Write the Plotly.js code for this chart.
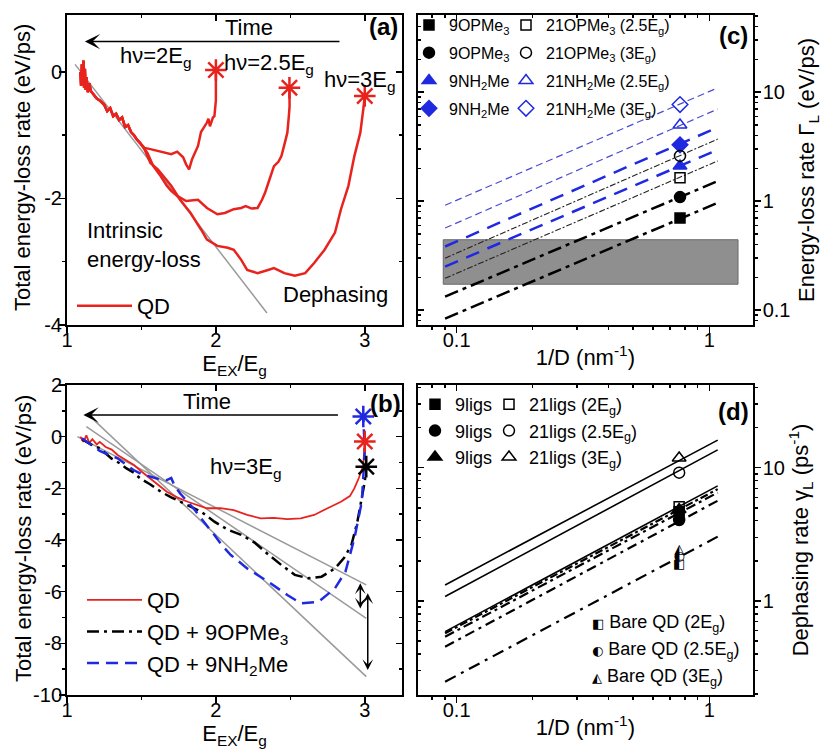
<!DOCTYPE html>
<html><head><meta charset="utf-8">
<script src="https://cdn.plot.ly/plotly-3.0.1.min.js"></script>
<style>html,body{margin:0;padding:0;background:#fff}</style>
</head><body><div id="chart" style="width:826px;height:755px"></div>
<script>
// ---------------- Panel (a): total energy-loss rate, bare QD ----------------
const aStartX = [1.09,1.095,1.10,1.105,1.11,1.115,1.12,1.125,1.13,1.14,1.15,1.16,1.18,1.20,1.22,1.25,1.27,1.29,1.31,1.33,1.35,1.37,1.39,1.41,1.43,1.45,1.47,1.49];
const aStartY = [0.00,-0.22,0.12,-0.18,0.18,-0.25,0.05,-0.28,-0.08,-0.32,-0.18,-0.30,-0.36,-0.42,-0.45,-0.52,-0.62,-0.57,-0.70,-0.66,-0.76,-0.72,-0.87,-0.84,-0.95,-1.00,-1.07,-1.12];
const a2EgX = [1.52,1.56,1.61,1.65,1.70,1.74,1.78,1.80,1.82,1.84,1.86,1.88,1.90,1.92,1.94,1.95,1.96,1.98,1.99,2.0,2.0];
const a2EgY = [-1.20,-1.22,-1.25,-1.28,-1.30,-1.26,-1.35,-1.46,-1.54,-1.38,-1.28,-1.17,-0.95,-0.88,-0.80,-0.74,-0.86,-0.72,-0.70,-0.45,0.03];
const a25EgX = [1.54,1.58,1.63,1.67,1.70,1.74,1.80,1.88,1.94,2.01,2.06,2.12,2.17,2.20,2.24,2.28,2.31,2.33,2.36,2.39,2.42,2.44,2.46,2.48,2.49,2.495,2.494];
const a25EgY = [-1.28,-1.49,-1.65,-1.80,-1.88,-1.96,-2.04,-2.02,-2.15,-2.25,-2.23,-2.17,-2.15,-2.12,-2.16,-2.15,-2.02,-1.91,-1.70,-1.49,-1.42,-1.33,-1.15,-0.96,-0.70,-0.54,-0.25];
const a3EgX = [1.52,1.56,1.61,1.65,1.70,1.76,1.83,1.90,1.94,2.01,2.08,2.12,2.17,2.21,2.28,2.35,2.39,2.46,2.53,2.60,2.66,2.73,2.80,2.84,2.89,2.93,2.97,2.99,3.0];
const a3EgY = [-1.22,-1.44,-1.54,-1.65,-1.80,-2.02,-2.23,-2.49,-2.65,-2.75,-2.78,-2.81,-2.97,-3.13,-3.18,-3.13,-3.10,-3.18,-3.22,-3.18,-3.02,-2.81,-2.54,-2.17,-1.80,-1.33,-0.96,-0.59,-0.38];
const aStarX = [2.0, 2.494, 3.0];
const aStarY = [0.03, -0.25, -0.38];
const aFitX = [1.054, 2.343];
const aFitY = [0.12, -3.81];

// ---------------- Panel (b): QD vs ligand-passivated QD at 3Eg ----------------
const bQDX = [1.09,1.11,1.13,1.15,1.17,1.20,1.22,1.26,1.30,1.34,1.40,1.45,1.50,1.56,1.62,1.67,1.74,1.81,1.88,1.94,2.03,2.12,2.21,2.30,2.39,2.48,2.57,2.66,2.75,2.84,2.90,2.93,2.96,2.99,3.0];
const bQDY = [0,-0.2,0.05,-0.25,-0.1,-0.3,-0.2,-0.4,-0.5,-0.71,-0.92,-1.10,-1.35,-1.61,-1.9,-2.13,-2.35,-2.52,-2.66,-2.77,-2.77,-2.84,-3.03,-3.16,-3.14,-3.19,-3.16,-3.03,-2.77,-2.52,-2.3,-2.0,-1.6,-1.1,-0.19];
const bOPX = [1.10,1.16,1.22,1.30,1.36,1.40,1.45,1.49,1.56,1.63,1.70,1.76,1.83,1.90,1.99,2.08,2.17,2.26,2.35,2.44,2.53,2.62,2.71,2.80,2.86,2.91,2.95,2.98,3.0,3.01];
const bOPY = [-0.1,-0.3,-0.45,-0.85,-1.05,-1.23,-1.4,-1.61,-1.85,-2.13,-2.35,-2.52,-2.7,-2.90,-3.29,-3.6,-3.8,-4.1,-4.55,-4.97,-5.35,-5.48,-5.42,-5.10,-4.7,-4.2,-3.3,-2.4,-1.74,-1.16];
const bNHX = [1.10,1.16,1.22,1.30,1.34,1.40,1.45,1.50,1.56,1.62,1.67,1.70,1.72,1.76,1.81,1.86,1.90,1.95,1.99,2.04,2.10,2.21,2.35,2.48,2.57,2.69,2.80,2.87,2.93,2.98,3.0,2.99];
const bNHY = [-0.06,-0.3,-0.55,-0.75,-0.84,-1.1,-1.3,-1.45,-1.55,-1.65,-1.68,-1.6,-1.87,-2.2,-2.52,-2.85,-3.16,-3.5,-3.81,-4.2,-4.58,-5.10,-5.61,-6.13,-6.45,-6.39,-5.87,-5.23,-3.94,-2.52,-0.58,0.78];
const bStarX = [3.0, 2.99, 3.01];
const bStarY = [-0.19, 0.78, -1.16];
const bFit1X = [1.18, 3.01], bFit1Y = [0.65, -9.29];
const bFit2X = [1.13, 3.01], bFit2Y = [0.39, -7.03];
const bFit3X = [1.07, 3.01], bFit3Y = [0.0, -5.74];

// ---------------- Panel (c): energy-loss rate vs 1/D ----------------
const cLineX = [0.09, 1.08];
const cL_9OP_a = [0.0838, 0.966];
const cL_9OP_b = [0.133, 1.53];
const cL_21OP_a = [0.196, 2.34];
const cL_21OP_b = [0.30, 3.71];
const cL_9NH_a = [0.251, 2.96];
const cL_9NH_b = [0.384, 4.75];
const cL_21NH_a = [0.567, 7.0];
const cL_21NH_b = [0.918, 10.96];
const cBandX = [0.0885, 1.30];
const cBandY = [0.173, 0.443];
const cPtX = [0.766];
const c9OPMe3_sq = [0.70], c9OPMe3_ci = [1.09], c9NH2Me_tr = [2.1], c9NH2Me_di = [3.29];
const c21OPMe3_25 = [1.64], c21OPMe3_3 = [2.6], c21NH2Me_25 = [4.99], c21NH2Me_3 = [7.7];

// ---------------- Panel (d): dephasing rate vs 1/D ----------------
const dLineX = [0.09, 1.08];
const dS1 = [1.32, 16.1], dS2 = [1.08, 13.6], dS3 = [0.589, 7.3];
const dD1 = [0.573, 6.9], dD2 = [0.54, 6.5], dD3 = [0.454, 5.65], dD4 = [0.248, 3.04];
const dPtX = [0.76];
const d9ligs_2 = [4.68], d9ligs_25 = [4.05], d9ligs_3 = [4.85];
const d21ligs_2 = [5.1], d21ligs_25 = [9.17], d21ligs_3 = [11.8];
const dBare_2 = [1.86], dBare_25 = [2.15], dBare_3 = [2.41];

// ---------------- styling ----------------
const FONT = 'Liberation Sans, Arial, sans-serif';
const RED = '#e8231e', BLUE = '#1f2ae0', LBLUE = '#4b4bd6', GRAY = '#9a9a9a';
const cat = (a, b) => a.concat(b);

const traces = [];
function ln(x, y, xa, ya, color, width, dash, extra) {
  return Object.assign({x, y, xaxis: xa, yaxis: ya, mode: 'lines', line: {color, width, dash}, showlegend: false, hoverinfo: 'skip'}, extra || {});
}
function mk(x, y, xa, ya, symbol, color, size, extra) {
  return Object.assign({x, y, xaxis: xa, yaxis: ya, mode: 'markers', cliponaxis: false,
    marker: {symbol, size, color, line: {color, width: 1.5}}, showlegend: false}, extra || {});
}

// (a)
traces.push(ln(aFitX, aFitY, 'x', 'y', GRAY, 1.5, 'solid'));
traces.push(ln(cat(aStartX, a2EgX), cat(aStartY, a2EgY), 'x', 'y', RED, 2.5, 'solid'));
traces.push(ln(cat(aStartX, a25EgX), cat(aStartY, a25EgY), 'x', 'y', RED, 2.5, 'solid'));
traces.push(ln(cat(aStartX, a3EgX), cat(aStartY, a3EgY), 'x', 'y', RED, 2.5, 'solid', {showlegend: true, name: 'QD', legend: 'legend'}));
traces.push({x: aStarX, y: aStarY, xaxis: 'x', yaxis: 'y', mode: 'markers', showlegend: false, cliponaxis: false,
  marker: {symbol: 'asterisk-open', size: 18, color: RED, line: {color: RED, width: 2.5}}});

// (b)
traces.push(ln(bFit1X, bFit1Y, 'x2', 'y2', GRAY, 1.5, 'solid'));
traces.push(ln(bFit2X, bFit2Y, 'x2', 'y2', GRAY, 1.5, 'solid'));
traces.push(ln(bFit3X, bFit3Y, 'x2', 'y2', GRAY, 1.5, 'solid'));
traces.push(ln(bQDX, bQDY, 'x2', 'y2', RED, 1.8, 'solid', {showlegend: true, name: 'QD', legend: 'legend2'}));
traces.push(ln(bOPX, bOPY, 'x2', 'y2', '#000', 2.5, '12px,5px,3px,5px', {showlegend: true, name: 'QD + 9OPMe<sub>3</sub>', legend: 'legend2'}));
traces.push(ln(bNHX, bNHY, 'x2', 'y2', BLUE, 2.5, '12px,7px', {showlegend: true, name: 'QD + 9NH<sub>2</sub>Me', legend: 'legend2'}));
traces.push({x: bStarX, y: bStarY, xaxis: 'x2', yaxis: 'y2', mode: 'markers', showlegend: false, cliponaxis: false,
  marker: {symbol: 'asterisk-open', size: 18, color: [RED, BLUE, '#000'], line: {color: [RED, BLUE, '#000'], width: 2.5}}});

// (c)
traces.push({x: [cBandX[0], cBandX[1], cBandX[1], cBandX[0], cBandX[0]], y: [cBandY[0], cBandY[0], cBandY[1], cBandY[1], cBandY[0]],
  xaxis: 'x3', yaxis: 'y3', mode: 'lines', fill: 'toself', fillcolor: 'rgba(128,128,128,0.88)', line: {color: '#6a6a6a', width: 1}, showlegend: false, hoverinfo: 'skip'});
traces.push(ln(cLineX, cL_9OP_a, 'x3', 'y3', '#000', 2.5, '14px,5px,4px,5px'));
traces.push(ln(cLineX, cL_9OP_b, 'x3', 'y3', '#000', 2.5, '14px,5px,4px,5px'));
traces.push(ln(cLineX, cL_21OP_a, 'x3', 'y3', '#222', 1.1, '6px,2px,2px,2px'));
traces.push(ln(cLineX, cL_21OP_b, 'x3', 'y3', '#222', 1.1, '6px,2px,2px,2px'));
traces.push(ln(cLineX, cL_9NH_a, 'x3', 'y3', BLUE, 2.5, '14px,9px'));
traces.push(ln(cLineX, cL_9NH_b, 'x3', 'y3', BLUE, 2.5, '14px,9px'));
traces.push(ln(cLineX, cL_21NH_a, 'x3', 'y3', LBLUE, 1.2, '7px,4px'));
traces.push(ln(cLineX, cL_21NH_b, 'x3', 'y3', LBLUE, 1.2, '7px,4px'));
const c3 = ['x3', 'y3'];
traces.push(mk(cPtX, c9OPMe3_sq, ...c3, 'square', '#000', 10, {showlegend: true, legend: 'legend3', legendgroup: 'c1', name: '9OPMe<sub>3</sub>'}));
traces.push(mk(cPtX, c9OPMe3_ci, ...c3, 'circle', '#000', 11, {showlegend: true, legend: 'legend3', legendgroup: 'c2', name: '9OPMe<sub>3</sub>'}));
traces.push(mk(cPtX, c9NH2Me_tr, ...c3, 'triangle-up', BLUE, 12, {showlegend: true, legend: 'legend3', legendgroup: 'c3', name: '9NH<sub>2</sub>Me'}));
traces.push(mk(cPtX, c9NH2Me_di, ...c3, 'diamond', BLUE, 12, {showlegend: true, legend: 'legend3', legendgroup: 'c4', name: '9NH<sub>2</sub>Me'}));
traces.push(mk(cPtX, c21OPMe3_25, ...c3, 'square-open', '#000', 10, {showlegend: true, legend: 'legend4', legendgroup: 'c5', name: '21OPMe<sub>3</sub> (2.5E<sub>g</sub>)'}));
traces.push(mk(cPtX, c21OPMe3_3, ...c3, 'circle-open', '#000', 11, {showlegend: true, legend: 'legend4', legendgroup: 'c6', name: '21OPMe<sub>3</sub> (3E<sub>g</sub>)'}));
traces.push(mk(cPtX, c21NH2Me_25, ...c3, 'triangle-up-open', BLUE, 12, {showlegend: true, legend: 'legend4', legendgroup: 'c7', name: '21NH<sub>2</sub>Me (2.5E<sub>g</sub>)'}));
traces.push(mk(cPtX, c21NH2Me_3, ...c3, 'diamond-open', BLUE, 12, {showlegend: true, legend: 'legend4', legendgroup: 'c8', name: '21NH<sub>2</sub>Me (3E<sub>g</sub>)'}));

// (d)
traces.push(ln(dLineX, dS1, 'x4', 'y4', '#000', 1.6, 'solid'));
traces.push(ln(dLineX, dS2, 'x4', 'y4', '#000', 1.6, 'solid'));
traces.push(ln(dLineX, dS3, 'x4', 'y4', '#000', 1.6, 'solid'));
traces.push(ln(dLineX, dD1, 'x4', 'y4', '#000', 2.2, '8px,3px,3px,3px'));
traces.push(ln(dLineX, dD2, 'x4', 'y4', '#000', 2.2, '10px,4px,3px,4px'));
traces.push(ln(dLineX, dD3, 'x4', 'y4', '#000', 2.2, '10px,5px,3px,5px'));
traces.push(ln(dLineX, dD4, 'x4', 'y4', '#000', 2.2, '12px,6px,3px,6px'));
const d4 = ['x4', 'y4'];
traces.push(mk(dPtX, d9ligs_3, ...d4, 'triangle-up', '#000', 12, {showlegend: true, legend: 'legend5', legendgroup: 'd3', legendrank: 3, name: '9ligs'}));
traces.push(mk(dPtX, d9ligs_2, ...d4, 'square', '#000', 10, {showlegend: true, legend: 'legend5', legendgroup: 'd1', legendrank: 1, name: '9ligs'}));
traces.push(mk(dPtX, d9ligs_25, ...d4, 'circle', '#000', 11, {showlegend: true, legend: 'legend5', legendgroup: 'd2', legendrank: 2, name: '9ligs'}));
traces.push(mk(dPtX, d21ligs_2, ...d4, 'square-open', '#000', 10, {showlegend: true, legend: 'legend6', legendgroup: 'd4', name: '21ligs (2E<sub>g</sub>)'}));
traces.push(mk(dPtX, d21ligs_25, ...d4, 'circle-open', '#000', 11, {showlegend: true, legend: 'legend6', legendgroup: 'd5', name: '21ligs (2.5E<sub>g</sub>)'}));
traces.push(mk(dPtX, d21ligs_3, ...d4, 'triangle-up-open', '#000', 12, {showlegend: true, legend: 'legend6', legendgroup: 'd6', name: '21ligs (3E<sub>g</sub>)'}));
traces.push({x: dPtX.concat(dPtX, dPtX), y: dBare_2.concat(dBare_25, dBare_3), xaxis: 'x4', yaxis: 'y4', mode: 'text',
  text: ['◧', '◐', '◭'], textposition: 'middle center', textfont: {family: 'DejaVu Sans', size: 13, color: '#000'}, showlegend: false, cliponaxis: false});

// empty traces so that the mirrored frame axes (inward ticks) are drawn
[['x5', 'y'], ['x', 'y5'], ['x6', 'y2'], ['x2', 'y6'], ['x7', 'y3'], ['x3', 'y7'], ['x8', 'y4'], ['x4', 'y8']].forEach(p => {
  traces.push({x: [], y: [], xaxis: p[0], yaxis: p[1], mode: 'markers', showlegend: false, hoverinfo: 'skip'});
});

// ---------------- axes ----------------
const DX1 = [67/826, 402/826], DX2 = [418/826, 752.7/826];
const DY1 = [1-325/755, 1-15/755], DY2 = [1-695/755, 1-385/755];
const TF = {family: FONT, size: 20, color: '#000'};
const TTF = {family: FONT, size: 22, color: '#000'};
function base(extra) {
  return Object.assign({showgrid: false, zeroline: false, showline: true, linecolor: '#000', linewidth: 2,
    ticks: 'outside', ticklen: 6, tickwidth: 1.5, tickcolor: '#000', tickfont: TF, automargin: false, fixedrange: true}, extra);
}
function mirror(extra) {
  return Object.assign({showgrid: false, zeroline: false, showline: true, linecolor: '#000', linewidth: 2,
    ticks: 'inside', ticklen: 6, tickwidth: 1.5, tickcolor: '#000', showticklabels: false, automargin: false, fixedrange: true}, extra);
}
const linX = {range: [1, 3.25], tickvals: [1, 2, 3], ticklabelstandoff: -10, minor: {tickvals: [1.5, 2.5], ticks: 'outside', ticklen: 3, tickwidth: 1.5, tickcolor: '#000'}};
const linXm = {range: [1, 3.25], tickvals: [1, 2, 3], minor: {tickvals: [1.5, 2.5], ticks: 'inside', ticklen: 3, tickwidth: 1.5, tickcolor: '#000'}};
const yAv = {range: [-4, 0.9], tickvals: [-4, -2, 0], ticktext: ['-4', '-2', '0'], ticklabelstandoff: -7, minor: {tickvals: [-3, -1], ticks: 'outside', ticklen: 3, tickwidth: 1.5, tickcolor: '#000'}};
const yBv = {range: [-10, 2], tickvals: [-10, -8, -6, -4, -2, 0, 2], ticktext: ['-10', '-8', '-6', '-4', '-2', '0', '2'], ticklabelstandoff: -7, minor: {tickvals: [-9, -7, -5, -3, -1, 1], ticks: 'outside', ticklen: 3, tickwidth: 1.5, tickcolor: '#000'}};
const logMinorX = [0.08, 0.09, 0.2, 0.3, 0.4, 0.5, 0.6, 0.7, 0.8, 0.9];
const logXv = {type: 'log', range: [-1.153, 0.172], tickvals: [0.1, 1], ticktext: ['0.1', '1']};
const logMinorYc = [0.08, 0.09, 0.2, 0.3, 0.4, 0.5, 0.6, 0.7, 0.8, 0.9, 2, 3, 4, 5, 6, 7, 8, 9, 20, 30, 40, 50];
const logMinorYd = [0.2, 0.3, 0.4, 0.5, 0.6, 0.7, 0.8, 0.9, 2, 3, 4, 5, 6, 7, 8, 9, 20, 30, 40];
const mOut = v => ({tickvals: v, ticks: 'outside', ticklen: 3, tickwidth: 1.5, tickcolor: '#000'});
const mIn = v => ({tickvals: v, ticks: 'inside', ticklen: 3, tickwidth: 1.5, tickcolor: '#000'});
const exTitle = {text: 'E<sub>EX</sub>/E<sub>g</sub>', font: TTF, standoff: 0};
const dTitle = {text: '1/D (nm<sup>-1</sup>)', font: TTF, standoff: 0};

function lg(x, y, size, extra) {
  return Object.assign({x: x/826, y: 1-y/755, xanchor: 'left', yanchor: 'top', xref: 'paper', yref: 'paper',
    bgcolor: 'rgba(0,0,0,0)', borderwidth: 0, font: {family: FONT, size, color: '#000'}, traceorder: 'grouped', tracegroupgap: 0}, extra || {});
}

const ann = [];
function txt(text, x, y, xref, yref, size, extra) {
  ann.push(Object.assign({text, x, y, xref, yref, showarrow: false, xanchor: 'center', yanchor: 'middle', font: {family: FONT, size, color: '#000'}}, extra || {}));
}
// left y-axis titles of (a) and (b)
txt('Total energy-loss rate (eV/ps)', 23/826, 1-168/755, 'paper', 'paper', 22, {textangle: -90});
txt('Total energy-loss rate (eV/ps)', 23/826, 1-539/755, 'paper', 'paper', 22, {textangle: -90});
// panel labels
txt('<b>(a)</b>', 383/826, 1-26/755, 'paper', 'paper', 24);
txt('<b>(b)</b>', 385/826, 1-403/755, 'paper', 'paper', 24);
txt('<b>(c)</b>', 733/826, 1-35/755, 'paper', 'paper', 24);
txt('<b>(d)</b>', 733/826, 1-411/755, 'paper', 'paper', 24);
// (a) texts
txt('Time', 2.22, 0.70, 'x', 'y', 22);
ann.push({x: 1.12, y: 0.48, ax: 2.84, ay: 0.48, xref: 'x', yref: 'y', axref: 'x', ayref: 'y', text: '', showarrow: true, arrowhead: 3, arrowsize: 1.6, arrowwidth: 1.6, arrowcolor: '#000'});
txt('hν=2E<sub>g</sub>', 1.60, 0.23, 'x', 'y', 22);
txt('hν=2.5E<sub>g</sub>', 2.36, 0.12, 'x', 'y', 22);
txt('hν=3E<sub>g</sub>', 2.97, -0.14, 'x', 'y', 22);
txt('Intrinsic<br>energy-loss', 1.12, -2.74, 'x', 'y', 22, {xanchor: 'left', align: 'left'});
txt('Dephasing', 2.80, -3.52, 'x', 'y', 22);
// (b) texts
txt('Time', 1.94, 1.35, 'x2', 'y2', 22);
ann.push({x: 1.11, y: 0.84, ax: 2.83, ay: 0.84, xref: 'x2', yref: 'y2', axref: 'x2', ayref: 'y2', text: '', showarrow: true, arrowhead: 3, arrowsize: 1.6, arrowwidth: 1.6, arrowcolor: '#000'});
txt('hν=3E<sub>g</sub>', 2.20, -1.23, 'x2', 'y2', 22);
ann.push({x: 2.97, y: -6.65, ax: 2.97, ay: -5.62, xref: 'x2', yref: 'y2', axref: 'x2', ayref: 'y2', text: '', showarrow: true, arrowhead: 3, startarrowhead: 3, arrowside: 'end+start', arrowsize: 1.2, startarrowsize: 1.2, arrowwidth: 1.5, arrowcolor: '#000'});
ann.push({x: 3.02, y: -9.03, ax: 3.02, ay: -6.0, xref: 'x2', yref: 'y2', axref: 'x2', ayref: 'y2', text: '', showarrow: true, arrowhead: 3, startarrowhead: 3, arrowside: 'end+start', arrowsize: 1.2, startarrowsize: 1.2, arrowwidth: 1.5, arrowcolor: '#000'});
// (d) bare QD legend
const bareRows = [['◧', 'Bare QD (2E<sub>g</sub>)', 623], ['◐', 'Bare QD (2.5E<sub>g</sub>)', 650], ['◭', 'Bare QD (3E<sub>g</sub>)', 677]];
bareRows.forEach(r => {
  ann.push({text: '<span style="font-family:DejaVu Sans;font-size:13px">' + r[0] + '</span> ' + r[1], x: 590/826, y: 1-r[2]/755,
    xref: 'paper', yref: 'paper', xanchor: 'left', yanchor: 'middle', showarrow: false, font: {family: FONT, size: 18, color: '#000'}});
});

const layout = {
  width: 826, height: 755, margin: {l: 0, r: 0, t: 0, b: 0}, paper_bgcolor: '#fff', plot_bgcolor: 'rgba(0,0,0,0)',
  font: {family: FONT, color: '#000'}, hovermode: false,
  xaxis: base(Object.assign({domain: DX1, anchor: 'y', title: exTitle}, linX)),
  yaxis: base(Object.assign({domain: DY1, anchor: 'x'}, yAv)),
  xaxis2: base(Object.assign({domain: DX1, anchor: 'y2', title: exTitle}, linX)),
  yaxis2: base(Object.assign({domain: DY2, anchor: 'x2'}, yBv)),
  xaxis3: base(Object.assign({domain: DX2, anchor: 'y3', title: dTitle, minor: mOut(logMinorX), ticklabelstandoff: -10}, logXv)),
  yaxis3: base({domain: DY1, anchor: 'x3', side: 'right', type: 'log', range: [-1.136, 1.708], tickvals: [0.1, 1, 10], ticktext: ['0.1', '1', '10'], minor: mOut(logMinorYc),
    ticklabelstandoff: -2, title: {text: 'Energy-loss rate Γ<sub>L</sub> (eV/ps)', font: TTF, standoff: 9}}),
  xaxis4: base(Object.assign({domain: DX2, anchor: 'y4', title: dTitle, minor: mOut(logMinorX), ticklabelstandoff: -10}, logXv)),
  yaxis4: base({domain: DY2, anchor: 'x4', side: 'right', type: 'log', range: [-0.705, 1.62], tickvals: [1, 10], ticktext: ['1', '10'], minor: mOut(logMinorYd),
    ticklabelstandoff: -2, title: {text: 'Dephasing rate γ<sub>L</sub> (ps<sup>-1</sup>)', font: TTF, standoff: 9}}),
  // mirrored frame axes with inward ticks
  xaxis5: mirror(Object.assign({overlaying: 'x', anchor: 'y', side: 'top'}, linXm)),
  yaxis5: mirror({overlaying: 'y', anchor: 'x', side: 'right', range: yAv.range, tickvals: yAv.tickvals, minor: mIn([-3, -1])}),
  xaxis6: mirror(Object.assign({overlaying: 'x2', anchor: 'y2', side: 'top'}, linXm)),
  yaxis6: mirror({overlaying: 'y2', anchor: 'x2', side: 'right', range: yBv.range, tickvals: yBv.tickvals, minor: mIn([-9, -7, -5, -3, -1, 1])}),
  xaxis7: mirror(Object.assign({overlaying: 'x3', anchor: 'y3', side: 'top', minor: mIn(logMinorX)}, logXv)),
  yaxis7: mirror({overlaying: 'y3', anchor: 'x3', side: 'left', type: 'log', range: [-1.136, 1.708], tickvals: [0.1, 1, 10], minor: mIn(logMinorYc)}),
  xaxis8: mirror(Object.assign({overlaying: 'x4', anchor: 'y4', side: 'top', minor: mIn(logMinorX)}, logXv)),
  yaxis8: mirror({overlaying: 'y4', anchor: 'x4', side: 'left', type: 'log', range: [-0.705, 1.62], tickvals: [1, 10], minor: mIn(logMinorYd)}),
  legend: lg(72, 285, 22, {itemwidth: 55}),
  legend2: lg(82, 579, 22, {itemwidth: 55}),
  legend3: lg(409, 8, 16, {tracegroupgap: 4}),
  legend4: lg(506, 8, 16, {tracegroupgap: 4}),
  legend5: lg(415, 386, 18, {tracegroupgap: 0}),
  legend6: lg(489, 386, 18, {tracegroupgap: 0}),
  annotations: ann
};

Plotly.newPlot('chart', traces, layout, {staticPlot: true, displayModeBar: false});
</script></body></html>
